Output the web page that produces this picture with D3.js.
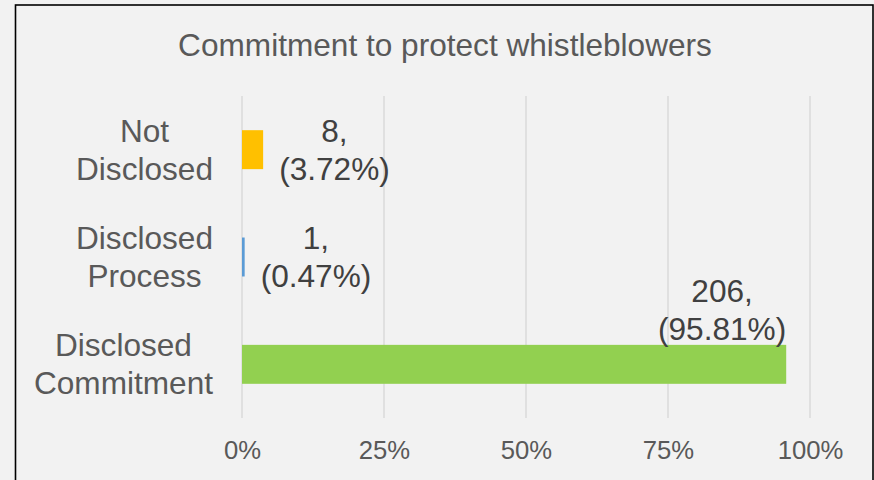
<!DOCTYPE html>
<html>
<head>
<meta charset="utf-8">
<script src="https://cdn.jsdelivr.net/npm/d3@7/dist/d3.min.js"></script>
<style>
  html, body { margin: 0; padding: 0; background: #F2F2F2; }
  svg { display: block; }
  text { font-family: "Liberation Sans", Arial, sans-serif; }
</style>
</head>
<body>
<svg id="chart" width="874" height="480"></svg>
<script>
// Chart data
const title = "Commitment to protect whistleblowers";
const categories = ["Not Disclosed", "Disclosed Process", "Disclosed Commitment"];
const categoryLines = [["Not", "Disclosed"], ["Disclosed", "Process"], ["Disclosed", "Commitment"]];
const counts = [8, 1, 206];
const percents = [3.72, 0.47, 95.81];
const barColors = ["#FFC000", "#5B9BD5", "#92D050"];
const tickValues = [0, 25, 50, 75, 100];

const W = 874, H = 480;
const svg = d3.select("#chart");

// Frame
svg.append("rect")
  .attr("x", 15.5).attr("y", 5).attr("width", 857.5).attr("height", H + 10)
  .attr("fill", "#F2F2F2").attr("stroke", "#000").attr("stroke-width", 1.6);

const plot = { left: 242, right: 810, top: 96, bottom: 418 };

const x = d3.scaleLinear().domain([0, 100]).range([plot.left, plot.right]);
const y = d3.scaleBand().domain(categories)
  .range([plot.top, plot.bottom])
  .paddingInner(0.637).paddingOuter(0.637 / 2);

const lineH = 37.9;
const labelSize = 31.6;

// Title
svg.append("text")
  .attr("x", 445).attr("y", 55.5)
  .attr("text-anchor", "middle")
  .attr("font-size", labelSize)
  .attr("fill", "#595959")
  .text(title);

// Gridlines
svg.append("g")
  .selectAll("line")
  .data(tickValues)
  .join("line")
  .attr("x1", d => x(d)).attr("x2", d => x(d))
  .attr("y1", plot.top).attr("y2", plot.bottom)
  .attr("stroke", "#D9D9D9").attr("stroke-width", 1.4);

// X axis tick labels
const xAxis = d3.axisBottom(x).tickValues(tickValues).tickSize(0).tickPadding(0)
  .tickFormat(d => d + "%");
const gx = svg.append("g").attr("transform", `translate(0,${plot.bottom})`).call(xAxis);
gx.select(".domain").remove();
gx.selectAll("text")
  .attr("dy", null)
  .attr("y", 41)
  .attr("font-size", 25.7)
  .attr("font-family", "'Liberation Sans', Arial, sans-serif")
  .attr("fill", "#595959");

// Category labels: block right-aligned, lines centred within the block
const catG = svg.append("g");
categories.forEach((c, i) => {
  const cy = y(c) + y.bandwidth() / 2;
  const lines = categoryLines[i];
  const g = catG.append("g");
  const texts = g.selectAll("text").data(lines).join("text")
    .attr("font-size", labelSize)
    .attr("fill", "#595959")
    .attr("text-anchor", "middle")
    .text(d => d);
  const maxW = d3.max(texts.nodes(), n => n.getComputedTextLength());
  const rightEdge = plot.left - 29;
  const firstBase = cy - (lines.length * lineH) / 2 + 29.9;
  texts.attr("x", rightEdge - maxW / 2)
    .attr("y", (d, j) => firstBase + j * lineH);
});

// Bars
svg.append("g")
  .selectAll("rect")
  .data(categories)
  .join("rect")
  .attr("x", x(0))
  .attr("y", d => y(d))
  .attr("width", (d, i) => x(percents[i]) - x(0))
  .attr("height", y.bandwidth())
  .attr("fill", (d, i) => barColors[i]);

// Data labels: "count," / "(pct%)"
const dl = svg.append("g");
categories.forEach((c, i) => {
  const lines = [counts[i] + ",", "(" + percents[i].toFixed(2) + "%)"];
  const barEnd = x(percents[i]);
  const cy = y(c) + y.bandwidth() / 2;
  const texts = dl.append("g").selectAll("text").data(lines).join("text")
    .attr("font-size", labelSize)
    .attr("fill", "#404040")
    .attr("text-anchor", "middle")
    .text(d => d);
  const maxW = d3.max(texts.nodes(), n => n.getComputedTextLength());
  let cx, firstBase;
  if (barEnd + 16 + maxW > W - 10) {
    // not enough room after the bar: sit above it, flush with the bar end
    cx = barEnd - maxW / 2;
    firstBase = y(c) - 5 - (lines.length - 1) * lineH;
  } else {
    cx = barEnd + 16 + maxW / 2;
    firstBase = cy - (lines.length * lineH) / 2 + 29.9;
  }
  texts.attr("x", cx).attr("y", (d, j) => firstBase + j * lineH);
});
</script>
</body>
</html>
